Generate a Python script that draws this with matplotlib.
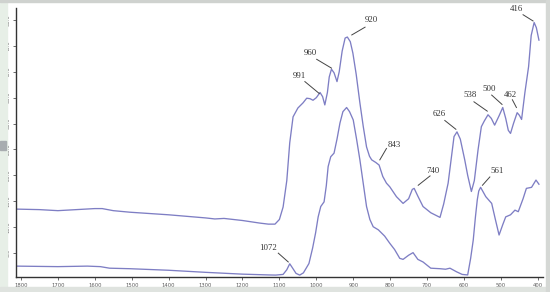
import matplotlib
matplotlib.use("Agg")
import matplotlib.pyplot as plt
from matplotlib.patches import Rectangle

# upper trace (wavenumber, intensity)
upper_w = [1813, 1750, 1700, 1650, 1600, 1580, 1550, 1505, 1400, 1300, 1275, 1250,
           1200, 1153, 1130, 1112, 1100, 1090, 1080, 1072, 1063, 1050, 1036, 1026,
           1017, 1009, 1000, 990, 983, 977, 970, 965, 959, 952, 944, 938, 930, 922,
           916, 908, 901, 892, 882, 873, 864, 856, 850, 839, 830, 820, 810, 801,
           783, 765, 750, 740, 735, 725, 711, 690, 665, 655, 643, 635, 627, 619,
           610, 598, 590, 580, 572, 562, 553, 545, 535, 526, 517, 505, 495, 487,
           480, 474, 466, 456, 450, 444, 435, 425, 418, 410, 404, 397]
upper_v = [13.5, 13.4, 13.2, 13.4, 13.6, 13.6, 13.2, 12.9, 12.4, 11.8, 11.6, 11.7,
           11.3, 10.8, 10.6, 10.6, 11.5, 13.9, 19.0, 26.3, 31.3, 33.0, 34.0, 34.9,
           34.8, 34.5, 35.0, 36.0, 35.2, 33.6, 36.0, 39.0, 40.5, 39.8, 38.1, 40.0,
           44.0, 46.5, 46.7, 45.8, 43.6, 39.5, 34.0, 29.5, 25.5, 23.7, 23.0, 22.5,
           22.0, 19.8, 18.5, 17.8, 15.9, 14.6, 15.5, 17.3, 17.5, 16.0, 14.0, 12.8,
           11.9, 14.5, 18.5, 23.0, 27.5, 28.4, 27.0, 23.0, 20.0, 16.9, 19.0, 24.9,
           29.4, 30.5, 31.7, 31.0, 29.7, 31.5, 33.1, 31.0, 28.7, 28.1, 30.0, 32.1,
           31.6, 30.8, 36.0, 41.0, 47.0, 49.5, 48.5, 46.1]

# lower trace
lower_w = [1813, 1700, 1620, 1585, 1560, 1505, 1400, 1300, 1200, 1130, 1110, 1090,
           1080, 1072, 1065, 1055, 1045, 1035, 1020, 1010, 1002, 995, 988, 979, 973,
           968, 961, 952, 944, 936, 928, 918, 910, 900, 891, 882, 873, 864, 855, 846,
           832, 815, 801, 788, 774, 765, 750, 738, 725, 711, 690, 665, 650, 638, 620,
           605, 598, 590, 582, 575, 569, 564, 560, 555, 548, 541, 525, 515, 505, 495,
           487, 474, 462, 453, 440, 431, 417, 405, 397]
lower_v = [2.5, 2.4, 2.5, 2.4, 2.1, 2.0, 1.7, 1.3, 0.95, 0.8, 0.77, 0.9, 1.8, 2.95,
           2.2, 1.1, 0.77, 1.2, 3.0, 6.0, 8.9, 12.0, 14.0, 14.9, 18.0, 21.7, 23.6,
           24.3, 27.0, 30.1, 32.3, 33.1, 32.3, 30.7, 27.0, 23.0, 18.5, 14.0, 11.5,
           10.1, 9.5, 8.3, 6.9, 5.7, 4.0, 3.8, 4.6, 5.1, 3.8, 3.3, 2.1, 2.0, 1.9, 2.1,
           1.4, 0.9, 0.85, 0.8, 4.0, 7.5, 12.0, 15.3, 17.0, 17.7, 16.8, 15.9, 14.6,
           11.5, 8.5, 10.5, 12.0, 12.4, 13.3, 13.0, 15.5, 17.5, 17.7, 19.1, 18.3]

# peak labels: text, text position, leader line start/end (data units)
peak_text = ["920", "960", "991", "843", "740", "626", "538", "500", "462", "416", "561", "1072"]
peak_txy = [(850, 49.9), (1017, 43.6), (1046, 39.2), (790, 25.9), (685, 20.9), (667, 31.9),
            (584, 35.5), (533, 36.6), (474, 35.5), (458, 52.1), (510, 20.9), (1130, 5.9)]
peak_line0 = [(868, 48.6), (999, 42.4), (1031, 38.1), (810, 25.2), (692, 19.9), (652, 30.6),
              (573, 34.2), (525, 35.5), (469, 34.6), (440, 51.0), (530, 19.7), (1103, 5.0)]
peak_line1 = [(904, 47.1), (959, 40.7), (992, 35.8), (828, 23.0), (724, 18.1), (622, 28.9),
              (537, 32.4), (497, 33.7), (458, 33.1), (413, 49.8), (550, 18.1), (1076, 3.3)]

x_ticks = list(range(400, 1801, 100))
y_ticks = [5, 10, 15, 20, 25, 30, 35, 40, 45, 50]

line_col = "#7e7ec4"

fig = plt.figure(figsize=(5.5, 2.92), dpi=100)
# frame strips of the screenshot
fig.patches.append(Rectangle((0, 0), 7 / 550, 1, transform=fig.transFigure,
                             color="#e7efe7", zorder=0))
fig.patches.append(Rectangle((0, 0), 1, 5 / 292, transform=fig.transFigure,
                             color="#dfe3df", zorder=0))
fig.patches.append(Rectangle((0, 1 - 2 / 292), 1, 2 / 292, transform=fig.transFigure,
                             color="#cfd2cf", zorder=0))
fig.patches.append(Rectangle((1 - 4 / 550, 0), 4 / 550, 1, transform=fig.transFigure,
                             color="#d5d8d5", zorder=0))
fig.patches.append(Rectangle((0, 142 / 292), 6 / 550, 9 / 292, transform=fig.transFigure,
                             color="#a8acb0", zorder=1))

ax = fig.add_axes([16 / 550, 15 / 292, (543 - 16) / 550, (277 - 8) / 292])
ax.set_facecolor("white")
ax.plot(upper_w, upper_v, color=line_col, lw=0.95)
ax.plot(lower_w, lower_v, color=line_col, lw=0.95)

ax.set_xlim(1813.5, 386)
ax.set_ylim(0.4, 52.3)

for s in ["top", "right"]:
    ax.spines[s].set_visible(False)
for s in ["left", "bottom"]:
    ax.spines[s].set_color("#333333")
    ax.spines[s].set_linewidth(1.0)

ax.set_xticks(x_ticks)
ax.set_xticklabels([str(t) for t in x_ticks])
ax.set_yticks(y_ticks)
ax.set_yticklabels(["%.1f" % t for t in y_ticks], rotation=90, va="center")
ax.tick_params(axis="both", direction="out", length=2, width=0.6, color="#555555",
               labelsize=3.8, labelcolor="#5a5a5a", pad=2)

for t, txy, p0, p1 in zip(peak_text, peak_txy, peak_line0, peak_line1):
    ax.text(txy[0], txy[1], t, fontsize=6.3, family="Liberation Serif", color="#333333",
            ha="center", va="center", clip_on=False)
    ax.plot([p0[0], p1[0]], [p0[1], p1[1]], color="#444444", lw=0.7, clip_on=False)

fig.savefig("out.png", dpi=100)
